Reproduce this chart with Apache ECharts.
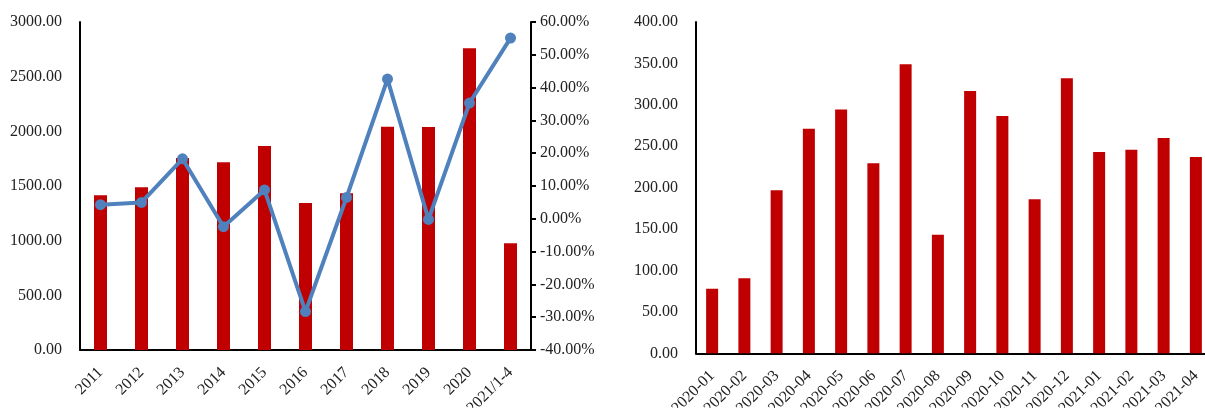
<!DOCTYPE html>
<html>
<head>
<meta charset="utf-8">
<script src="https://cdn.jsdelivr.net/npm/echarts@6/dist/echarts.min.js"></script>
<style>
html,body{margin:0;padding:0;background:#fff;}
#c{width:1205px;height:408px;}
</style>
</head>
<body>
<div id="c"></div>
<script>
var yearCats = ['2011','2012','2013','2014','2015','2016','2017','2018','2019','2020','2021/1-4'];
var yearValues = [1415, 1488, 1756, 1717, 1866, 1345, 1433, 2043, 2040, 2759, 976];
var yearGrowth = [4.3, 5.0, 18.3, -2.4, 8.8, -28.3, 6.5, 42.6, -0.2, 35.3, 55.1];

var monthCats = ['2020-01','2020-02','2020-03','2020-04','2020-05','2020-06','2020-07','2020-08','2020-09','2020-10','2020-11','2020-12','2021-01','2021-02','2021-03','2021-04'];
var monthValues = [78, 90.6, 197, 271, 294.5, 229.6, 349, 143, 316.6, 286.4, 186, 332, 243, 245.7, 260, 237];

var FONT = 'Liberation Serif, Times New Roman, serif';
var TXT = '#222';
var RED = '#C00000';
var BLUE = '#4F81BD';

var chart = echarts.init(document.getElementById('c'));
chart.setOption({
  animation: false,
  backgroundColor: '#fff',
  grid: [
    {left: 80, top: 22, width: 451, height: 328, containLabel: false, outerBoundsMode: 'none'},
    {left: 696, top: 22, width: 516, height: 331.3, containLabel: false, outerBoundsMode: 'none'}
  ],
  xAxis: [
    {
      type: 'category', gridIndex: 0, data: yearCats,
      axisLine: {lineStyle: {color: '#000', width: 2}},
      axisTick: {show: false},
      axisLabel: {rotate: 45, interval: 0, margin: 20, fontFamily: FONT, fontSize: 16, color: TXT}
    },
    {
      type: 'category', gridIndex: 1, data: monthCats,
      axisLine: {lineStyle: {color: '#000', width: 2}},
      axisTick: {show: false},
      axisLabel: {rotate: 45, interval: 0, margin: 20, fontFamily: FONT, fontSize: 16, color: TXT}
    }
  ],
  yAxis: [
    {
      type: 'value', gridIndex: 0, min: 0, max: 3000, interval: 500,
      axisLine: {show: true, lineStyle: {color: '#000', width: 2}},
      axisTick: {show: false},
      splitLine: {show: false},
      axisLabel: {margin: 18, fontFamily: FONT, fontSize: 16, color: TXT,
        formatter: function (v) { return v.toFixed(2); }}
    },
    {
      type: 'value', gridIndex: 0, position: 'right', min: -40, max: 60, interval: 10,
      axisLine: {show: true, lineStyle: {color: '#000', width: 2}},
      axisTick: {show: true, length: 5, lineStyle: {color: '#000', width: 2}},
      splitLine: {show: false},
      axisLabel: {margin: 9, fontFamily: FONT, fontSize: 16, color: TXT,
        formatter: function (v) { return v.toFixed(2) + '%'; }}
    },
    {
      type: 'value', gridIndex: 1, min: 0, max: 400, interval: 50,
      axisLine: {show: true, lineStyle: {color: '#000', width: 2}},
      axisTick: {show: false},
      splitLine: {show: false},
      axisLabel: {margin: 18, fontFamily: FONT, fontSize: 16, color: TXT,
        formatter: function (v) { return v.toFixed(2); }}
    }
  ],
  series: [
    {
      type: 'bar', xAxisIndex: 0, yAxisIndex: 0, data: yearValues,
      barWidth: 13, itemStyle: {color: RED}
    },
    {
      type: 'line', xAxisIndex: 0, yAxisIndex: 1, data: yearGrowth,
      symbol: 'circle', symbolSize: 11,
      lineStyle: {color: BLUE, width: 4},
      itemStyle: {color: BLUE}
    },
    {
      type: 'bar', xAxisIndex: 1, yAxisIndex: 2, data: monthValues,
      barWidth: 12, itemStyle: {color: RED}
    }
  ]
});
</script>
</body>
</html>
